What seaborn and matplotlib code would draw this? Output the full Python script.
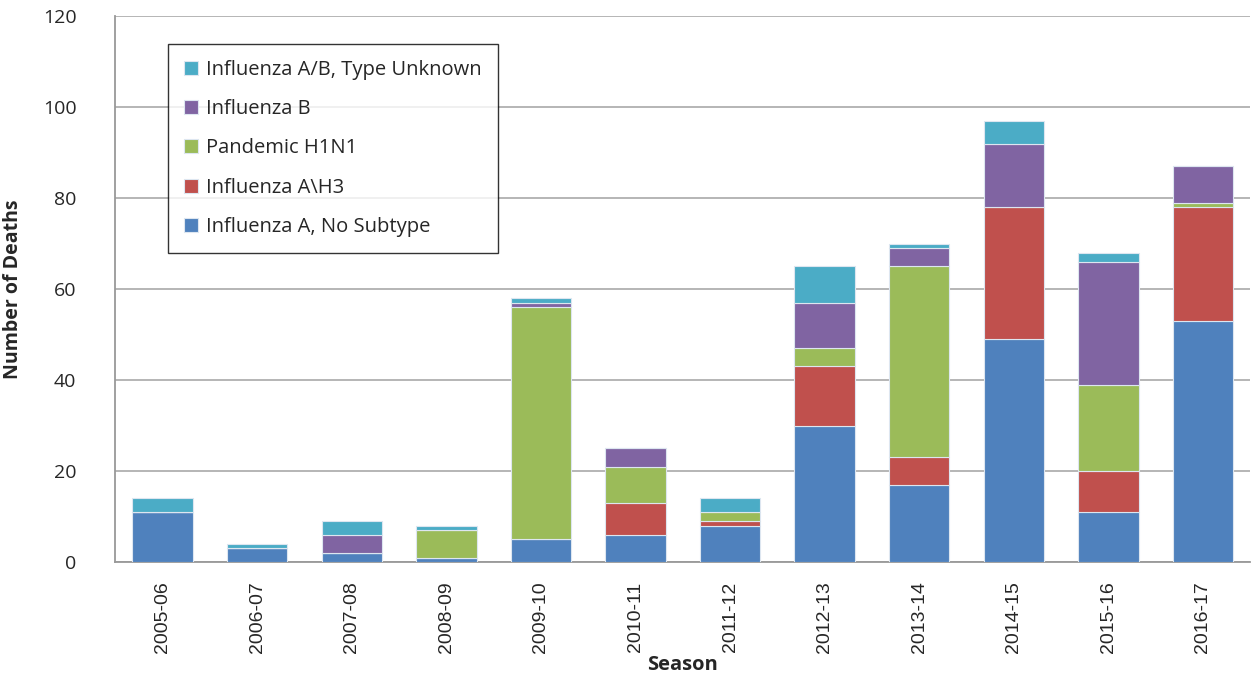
import pandas as pd
import matplotlib
matplotlib.use("Agg")
import matplotlib.pyplot as plt
import seaborn as sns

# -----------------------------
# Datos
# -----------------------------
seasons = ["2005-06", "2006-07", "2007-08", "2008-09", "2009-10", "2010-11",
           "2011-12", "2012-13", "2013-14", "2014-15", "2015-16", "2016-17"]

a_no_subtype = [11, 3, 2, 1, 5, 6, 8, 30, 17, 49, 11, 53]
a_h3 =         [0, 0, 0, 0, 0, 7, 1, 13, 6, 29, 9, 25]
h1n1 =         [0, 0, 0, 6, 51, 8, 2, 4, 42, 0, 19, 1]
flu_b =        [0, 0, 4, 0, 1, 4, 0, 10, 4, 14, 27, 8]
unknown =      [3, 1, 3, 1, 1, 0, 3, 8, 1, 5, 2, 0]

series = [
    ("Influenza A, No Subtype", a_no_subtype, "#4F81BD"),
    ("Influenza A\\H3", a_h3, "#C0504D"),
    ("Pandemic H1N1", h1n1, "#9BBB59"),
    ("Influenza B", flu_b, "#8064A2"),
    ("Influenza A/B, Type Unknown", unknown, "#4BACC6"),
]

sns.set_theme(style="white")
plt.rcParams["font.family"] = ["Open Sans", "DejaVu Sans"]

fig = plt.figure(figsize=(12.54, 6.78), dpi=100)
ax = fig.add_axes([0.092, 0.171, 0.905, 0.805])

# -----------------------------
# Barras apiladas
# -----------------------------
bottom = [0] * len(seasons)
for name, vals, color in series:
    df = pd.DataFrame({"season": seasons, "deaths": vals})
    sns.barplot(data=df, x="season", y="deaths", color=color, bottom=bottom,
                saturation=1, width=0.64, edgecolor="#dde6f0", linewidth=0.8,
                label=name, ax=ax, zorder=3)
    bottom = [b + v for b, v in zip(bottom, vals)]

ax.set_ylim(0, 120)
ax.set_yticks(range(0, 121, 20))
ax.set_xlim(-0.5, len(seasons) - 0.5)
ax.yaxis.grid(True, color="#b0b0b0", linewidth=1.3, zorder=0)
for side in ["top", "right"]:
    ax.spines[side].set_visible(False)
for side in ["left", "bottom"]:
    ax.spines[side].set_color("#999999")
    ax.spines[side].set_linewidth(1.3)

ax.tick_params(axis="y", labelsize=14, pad=22, left=False)
ax.tick_params(axis="x", labelsize=14, rotation=90, pad=8, bottom=False)
for lbl in ax.get_xticklabels():
    lbl.set_family(["Liberation Sans", "DejaVu Sans"])

ax.set_ylabel("Number of Deaths", fontsize=14, fontweight="bold", labelpad=14)
ax.set_xlabel("Season", fontsize=14.5, fontweight="bold", labelpad=1)

handles, labels = ax.get_legend_handles_labels()
leg = ax.legend(handles[::-1], labels[::-1], loc="upper left",
                bbox_to_anchor=(0.046, 0.949), borderaxespad=0, fontsize=14.5,
                frameon=True, fancybox=False, edgecolor="black",
                handlelength=0.7, handleheight=0.7, labelspacing=0.95,
                borderpad=0.8, handletextpad=0.4)
leg.get_frame().set_linewidth(1.0)

plt.savefig("out.png", dpi=100)
